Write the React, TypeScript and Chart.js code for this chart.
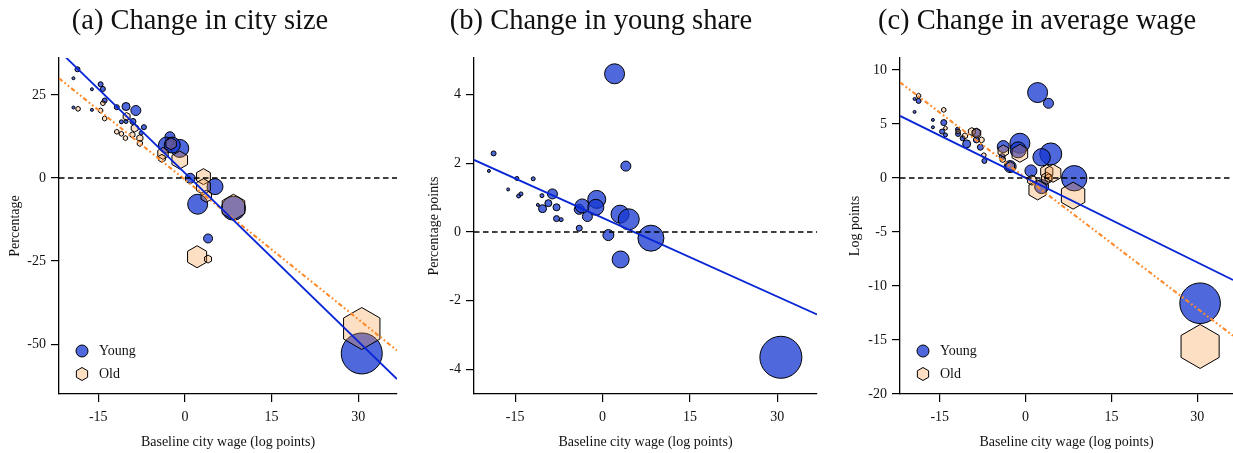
import React, { useEffect, useRef } from "react";
import { Chart, registerables } from "chart.js";

Chart.register(...registerables);

const FONT = "'Liberation Serif', 'Times New Roman', serif";

// ---------- shared axis ticks ----------
const xTickValues = [-15, 0, 15, 30];
const aYTicks = [-50, -25, 0, 25];
const bYTicks = [-4, -2, 0, 2, 4];
const cYTicks = [-20, -15, -10, -5, 0, 5, 10];

// ---------- panel (a): change in city size ----------
const aYoungX = [-18.6, -19.3, -16.1, -14.6, -14.2, -13.9, -19.3, -16.1, -11.8, -10.2, -8.5, -11.0, -10.2, -9.0, -7.1, -7.6, -2.6, -3.2, -0.9, -2.2, 0.9, 5.2, 2.2, 8.4, 4.0, 30.6];
const aYoungY = [32.7, 30.0, 26.7, 28.2, 26.8, 23.3, 21.2, 20.5, 21.3, 21.5, 20.3, 16.9, 17.0, 17.0, 15.3, 13.5, 12.4, 9.9, 8.9, 9.9, -0.1, -2.6, -7.9, -9.1, -18.2, -52.8];
const aYoungR = [2.5, 1.5, 1.5, 2.5, 2.5, 2.5, 1.5, 1.5, 2.5, 4, 5, 2, 2, 3, 2.5, 2, 5, 8, 9, 8, 5, 8, 10, 12, 4.5, 20.5];
const aOldX = [-18.5, -14.6, -14.2, -13.9, -11.8, -11.0, -10.3, -10.1, -8.7, -9.1, -7.8, -7.8, -3.8, -4.0, -0.9, -2.4, 3.2, 3.2, 3.7, 8.4, 2.1, 4.0, 30.6];
const aOldY = [20.8, 20.3, 22.5, 17.9, 13.9, 13.3, 12.0, 18.5, 15.0, 13.0, 12.0, 10.4, 7.4, 5.9, 5.4, 10.3, 0.4, -2.6, -5.5, -8.8, -23.7, -24.4, -45.3];
const aOldR = [2.5, 2.5, 2.5, 2.5, 2.5, 2.5, 2.5, 4, 4, 3, 3.5, 3, 6, 4, 9, 6, 8, 8, 6, 13, 11, 4, 21];
const aYoungFitX = [-21.8, 36.7];
const aYoungFitY = [38.3, -60.5];
const aOldFitX = [-21.8, 36.7];
const aOldFitY = [30.0, -51.9];

// ---------- panel (b): change in young share ----------
const bYoungX = [-18.7, -19.5, -14.7, -16.2, -14.4, -14.0, -11.9, -10.4, -11.1, -8.6, -9.3, -10.3, -7.9, -7.9, -7.1, -4.0, -4.0, -3.5, -2.6, -1.0, -1.15, 3.0, 4.5, 1.0, 8.3, 2.06, 4.0, 3.1, 30.6];
const bYoungY = [2.29, 1.78, 1.56, 1.24, 1.05, 1.11, 1.55, 1.06, 0.79, 1.11, 0.84, 0.68, 0.72, 0.39, 0.36, 0.11, 0.66, 0.76, 0.45, 0.95, 0.72, 0.52, 0.37, -0.09, -0.18, 4.61, 1.92, -0.80, -3.65];
const bYoungR = [2.5, 1.5, 2, 1.5, 2, 2, 2, 2, 1.5, 5, 3.5, 4, 3.5, 3, 2, 3, 5, 7, 5, 9, 8, 9, 10.5, 5.5, 13, 10, 5, 8.5, 21];
const bYoungFitX = [-22.06, 36.8];
const bYoungFitY = [2.10, -2.40];

// ---------- panel (c): change in average wage ----------
const cYoungX = [-19.4, -18.7, -19.4, -16.2, -16.2, -14.3, -14.6, -14.0, -11.9, -11.8, -11.0, -10.3, -8.6, -7.9, -7.2, -8.6, -1.0, -1.3, -3.9, -2.7, -4.1, 2.1, 4.0, 4.4, 2.8, 0.93, 8.5, 2.8, 30.5];
const cYoungY = [7.31, 7.13, 6.11, 5.37, 4.69, 5.12, 4.29, 3.98, 4.5, 4.07, 3.67, 3.15, 3.52, 2.84, 1.57, 4.2, 3.21, 2.6, 2.9, 1.05, 1.97, 7.9, 6.91, 2.22, 1.91, 0.65, -0.03, -0.8, -11.6];
const cYoungR = [1.5, 2.5, 1.5, 1.5, 1.5, 3, 2.5, 2, 2, 2.5, 2.5, 4, 3, 3, 2.5, 4, 10, 8, 6, 6, 3, 10, 5, 11, 8.7, 6, 12.7, 7, 20.3];
const cOldX = [-18.7, -14.3, -14.0, -11.8, -9.4, -8.6, -7.7, -10.6, -7.3, -3.9, -1.0, -2.7, -4.0, 3.7, 3.7, 4.0, 2.1, 4.8, 1.1, 8.3, 30.5];
const cOldY = [7.6, 6.3, 4.6, 4.3, 4.29, 4.14, 3.52, 3.89, 2.1, 2.5, 2.28, 1.05, 1.7, 0.58, -0.03, 0.0, -1.11, 0.43, -0.2, -1.64, -15.6];
const cOldR = [2.5, 2.5, 2, 2.5, 4, 5, 3, 3, 2.5, 6, 9, 5, 3, 7, 6, 4, 10, 9, 5, 13.5, 22];
const cYoungFitX = [-21.95, 36.25];
const cYoungFitY = [5.74, -9.44];
const cOldFitX = [-21.95, 36.25];
const cOldFitY = [8.85, -14.6];

// ---------- styles ----------
const YOUNG_FILL = "rgba(20,55,210,0.75)";
const OLD_FILL = "rgba(248,148,58,0.3)";
const YOUNG_LINE = "#0826d6";
const OLD_LINE = "#ff8a2a";

function hexPath(ctx: CanvasRenderingContext2D, cx: number, cy: number, R: number) {
  ctx.beginPath();
  for (let k = 0; k < 6; k++) {
    const a = -Math.PI / 2 + (k * Math.PI) / 3;
    const px = cx + R * Math.cos(a);
    const py = cy + R * Math.sin(a);
    if (k === 0) ctx.moveTo(px, py);
    else ctx.lineTo(px, py);
  }
  ctx.closePath();
}

function drawHex(ctx: CanvasRenderingContext2D, cx: number, cy: number, R: number) {
  hexPath(ctx, cx, cy, R);
  ctx.fillStyle = OLD_FILL;
  ctx.fill();
  ctx.lineWidth = 1;
  ctx.lineJoin = "miter";
  ctx.strokeStyle = "#000";
  ctx.stroke();
}

const zip3 = (xs: number[], ys: number[], rs: number[]) => xs.map((x, i) => ({ x, y: ys[i], r: rs[i] }));
const zip2 = (xs: number[], ys: number[]) => xs.map((x, i) => ({ x, y: ys[i] }));

type PanelCfg = {
  left: number;
  width: number;
  yAxisWidth: number;
  xMin: number;
  xMax: number;
  yMin: number;
  yMax: number;
  yTicks: number[];
  yTitle: string;
  yTitlePad: number;
  title: string;
  titleX: number;
  legend: boolean;
  datasets: any[];
};

// right-hand layout padding (larger than the biggest bubble so Chart.js keeps it fixed)
const PAD_RIGHT = 30;

function youngDs(xs: number[], ys: number[], rs: number[]) {
  return {
    type: "bubble",
    label: "Young",
    data: zip3(xs, ys, rs),
    backgroundColor: YOUNG_FILL,
    borderColor: "#000",
    borderWidth: 1,
    order: 2,
  };
}
// Old cities: bubbles positioned by Chart.js; drawn as hexagons by hexPlugin
function oldDs(xs: number[], ys: number[], rs: number[]) {
  return {
    type: "bubble",
    label: "Old",
    data: zip3(xs, ys, rs),
    backgroundColor: "rgba(0,0,0,0)",
    borderColor: "rgba(0,0,0,0)",
    borderWidth: 0,
    hexMarker: true,
    order: 1,
  };
}
function fitDs(xs: number[], ys: number[], color: string, dash: number[], width: number) {
  return {
    type: "line",
    data: zip2(xs, ys),
    borderColor: color,
    borderWidth: width,
    borderDash: dash,
    pointRadius: 0,
    fill: false,
    tension: 0,
    order: 0,
  };
}
function zeroDs(xMin: number, xMax: number) {
  return {
    type: "line",
    data: [{ x: xMin, y: 0 }, { x: xMax, y: 0 }],
    borderColor: "#000",
    borderWidth: 1.5,
    borderDash: [5.5, 3.5],
    pointRadius: 0,
    fill: false,
    order: 0,
  };
}

const DASH_DOT_DOT = [4.5, 2.5, 1.8, 2.5, 1.8, 2.5];

const panels: PanelCfg[] = [
  {
    left: 0, width: 397 + PAD_RIGHT, yAxisWidth: 59,
    xMin: -21.8, xMax: 36.7, yMin: -65, yMax: 36.1, yTicks: aYTicks,
    yTitle: "Percentage", yTitlePad: 6.6,
    title: "(a) Change in city size", titleX: 200, legend: true,
    datasets: [
      zeroDs(-21.8, 36.7),
      fitDs(aYoungFitX, aYoungFitY, YOUNG_LINE, [], 1.8),
      fitDs(aOldFitX, aOldFitY, OLD_LINE, DASH_DOT_DOT, 2.1),
      oldDs(aOldX, aOldY, aOldR),
      youngDs(aYoungX, aYoungY, aYoungR),
    ],
  },
  {
    left: 411, width: 817 - 411 + PAD_RIGHT, yAxisWidth: 63,
    xMin: -22.06, xMax: 36.8, yMin: -4.72, yMax: 5.07, yTicks: bYTicks,
    yTitle: "Percentage points", yTitlePad: 14.6,
    title: "(b) Change in young share", titleX: 190, legend: false,
    datasets: [
      zeroDs(-22.06, 36.8),
      fitDs(bYoungFitX, bYoungFitY, YOUNG_LINE, [], 1.8),
      youngDs(bYoungX, bYoungY, bYoungR),
    ],
  },
  {
    left: 822, width: 1233 - 822 + PAD_RIGHT, yAxisWidth: 78,
    xMin: -21.95, xMax: 36.25, yMin: -20, yMax: 11.1, yTicks: cYTicks,
    yTitle: "Log points", yTitlePad: 24.6,
    title: "(c) Change in average wage", titleX: 215, legend: true,
    datasets: [
      zeroDs(-21.95, 36.25),
      fitDs(cYoungFitX, cYoungFitY, YOUNG_LINE, [], 1.8),
      fitDs(cOldFitX, cOldFitY, OLD_LINE, DASH_DOT_DOT, 2.1),
      oldDs(cOldX, cOldY, cOldR),
      youngDs(cYoungX, cYoungY, cYoungR),
    ],
  },
];

const hexPlugin = {
  id: "hexMarkers",
  afterDatasetDraw(chart: any, args: any) {
    const ds = chart.data.datasets[args.index];
    if (!ds || !ds.hexMarker) return;
    const ctx = chart.ctx as CanvasRenderingContext2D;
    ctx.save();
    for (const el of args.meta.data) {
      const R = el.options && el.options.radius;
      if (!R) continue;
      drawHex(ctx, el.x, el.y, R);
    }
    ctx.restore();
  },
};

const decorPlugin = {
  id: "decor",
  afterDraw(chart: any, _args: any, opts: any) {
    const ctx = chart.ctx as CanvasRenderingContext2D;
    ctx.save();
    ctx.fillStyle = "#111";
    ctx.font = `28.5px ${FONT}`;
    ctx.textAlign = "center";
    ctx.textBaseline = "alphabetic";
    ctx.fillText(opts.title, opts.titleX, 29);
    if (opts.legend) {
      const area = chart.chartArea;
      const mx = area.left + 23;
      const tx = area.left + 40;
      const y1 = area.bottom - 43;
      const y2 = area.bottom - 20;
      ctx.beginPath();
      ctx.arc(mx, y1, 6, 0, Math.PI * 2);
      ctx.fillStyle = YOUNG_FILL;
      ctx.fill();
      ctx.lineWidth = 1;
      ctx.strokeStyle = "#000";
      ctx.stroke();
      drawHex(ctx, mx, y2, 6.5);
      ctx.fillStyle = "#111";
      ctx.font = `14px ${FONT}`;
      ctx.textAlign = "left";
      ctx.textBaseline = "middle";
      ctx.fillText("Young", tx, y1);
      ctx.fillText("Old", tx, y2);
    }
    ctx.restore();
  },
};

function Panel({ cfg }: { cfg: PanelCfg }) {
  const ref = useRef<HTMLCanvasElement>(null);
  useEffect(() => {
    const font = { family: FONT, size: 14 };
    const chart = new Chart(ref.current!, {
      type: "bubble",
      data: { datasets: cfg.datasets as any },
      plugins: [hexPlugin as any, decorPlugin as any],
      options: {
        responsive: false,
        animation: false,
        devicePixelRatio: 1,
        events: [],
        layout: { padding: { top: 58, right: PAD_RIGHT, left: 0, bottom: 0 } },
        plugins: {
          legend: { display: false },
          tooltip: { enabled: false },
          decor: { title: cfg.title, titleX: cfg.titleX, legend: cfg.legend },
        } as any,
        scales: {
          x: {
            type: "linear",
            min: cfg.xMin,
            max: cfg.xMax,
            afterBuildTicks: (s: any) => {
              s.ticks = xTickValues.map((v) => ({ value: v }));
            },
            afterFit: (s: any) => {
              s.height = 59;
            },
            grid: { display: true, drawOnChartArea: false, drawTicks: true, tickLength: 8, color: "#000", lineWidth: 1.2 },
            border: { display: true, color: "#000", width: 1.3 },
            ticks: { font, color: "#111", padding: 7, autoSkip: false, maxRotation: 0, callback: (v: any) => String(v) },
            title: { display: true, text: "Baseline city wage (log points)", font, color: "#111", padding: { top: 0, bottom: 2 } },
          },
          y: {
            type: "linear",
            min: cfg.yMin,
            max: cfg.yMax,
            afterBuildTicks: (s: any) => {
              s.ticks = cfg.yTicks.map((v) => ({ value: v }));
            },
            afterFit: (s: any) => {
              s.width = cfg.yAxisWidth;
            },
            grid: { display: true, drawOnChartArea: false, drawTicks: true, tickLength: 8, color: "#000", lineWidth: 1.2 },
            border: { display: true, color: "#000", width: 1.3 },
            ticks: { font, color: "#111", padding: 5, autoSkip: false, callback: (v: any) => String(v) },
            title: { display: true, text: cfg.yTitle, font, color: "#111", padding: { top: cfg.yTitlePad, bottom: 0 } },
          },
        },
      } as any,
    });
    return () => chart.destroy();
  }, []);
  return (
    <canvas
      ref={ref}
      width={cfg.width}
      height={453}
      style={{ position: "absolute", left: cfg.left, top: 0, width: cfg.width, height: 453 }}
    />
  );
}

export default function App() {
  return (
    <div style={{ position: "absolute", left: 0, top: 0, width: 1233, height: 453, overflow: "hidden", background: "#fff" }}>
      {panels.map((p, i) => (
        <Panel key={i} cfg={p} />
      ))}
    </div>
  );
}
